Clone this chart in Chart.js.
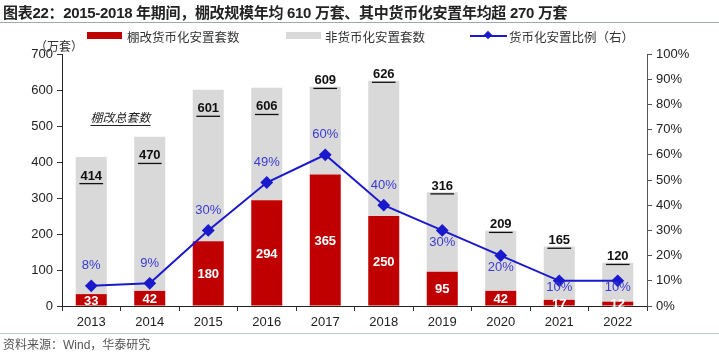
<!DOCTYPE html>
<html lang="zh">
<head>
  <meta charset="UTF-8">
  <title>棚改货币化安置</title>
  <script src="https://cdn.jsdelivr.net/npm/chart.js"></script>
  <style>
    body { margin: 0; width: 719px; height: 352px; position: relative; background: #fff; font-family: "Liberation Sans", Arial, "Noto Sans CJK SC", sans-serif; overflow: hidden; }
    #title { position: absolute; left: 3px; top: 1px; font-size: 15px; font-weight: bold; color: #222; letter-spacing: -0.3px; white-space: nowrap; }
    #topline { position: absolute; left: 0; top: 22px; width: 719px; height: 1px; background: #9aa9b8; }
    #botline { position: absolute; left: 0; top: 333px; width: 719px; height: 1px; background: #bcc6d0; }
    #source { position: absolute; left: 3px; top: 335px; font-size: 12px; color: #555; }
    #unit { position: absolute; left: 35px; top: 37px; font-size: 12px; color: #333; }
    .sw { position: absolute; top: 32px; width: 35px; height: 7px; }
    .lt { position: absolute; top: 27px; font-size: 12.5px; color: #333; white-space: nowrap; font-family: "Noto Sans CJK SC", sans-serif; }
    .ln { position: absolute; top: 35px; left: 470px; width: 37px; height: 2px; background: #1a1acc; }
    .ln:after { content: ""; position: absolute; left: 15px; top: -3px; width: 6px; height: 6px; background: #1a1acc; transform: rotate(45deg); }
    #wrap { position: absolute; left: 0; top: 0; width: 719px; height: 352px; }
  </style>
</head>
<body>
  <div id="wrap"><canvas id="c"></canvas></div>
  <div id="title">图表22：2015-2018 年期间，棚改规模年均 610 万套、其中货币化安置年均超 270 万套</div>
  <div id="topline"></div>
  <span class="sw" style="left:87px;background:#c00000"></span><span class="lt" style="left:127px">棚改货币化安置套数</span>
  <span class="sw" style="left:286px;background:#d9d9d9"></span><span class="lt" style="left:325px">非货币化安置套数</span>
  <span class="ln"></span><span class="lt" style="left:509px">货币化安置比例（右）</span>
  <div id="unit">（万套）</div>
  <div id="botline"></div>
  <div id="source">资料来源：Wind，华泰研究</div>

  <script>
    const years = ['2013', '2014', '2015', '2016', '2017', '2018', '2019', '2020', '2021', '2022'];
    const totals = [414, 470, 601, 606, 609, 626, 316, 209, 165, 120];
    const monetized = [33, 42, 180, 294, 365, 250, 95, 42, 17, 12];
    const ratio = [8, 9, 30, 49, 60, 40, 30, 20, 10, 10];
    const nonMonetized = totals.map((t, i) => t - monetized[i]);

    // label placement: total labels inside bar for early years, above for later
    const totalInside = [true, true, true, true, false, false, false, false, false, false];
    const ratioAbove = [true, true, true, true, true, true, false, false, false, false];

    const labelsPlugin = {
      id: 'labels',
      afterDatasetsDraw(chart) {
        const ctx = chart.ctx;
        const x = chart.scales.x, y = chart.scales.y, y2 = chart.scales.y2;
        ctx.save();
        ctx.textAlign = 'center';
        ctx.textBaseline = 'middle';
        years.forEach((yr, i) => {
          const cx = x.getPixelForValue(i);
          // totals, bold + underline
          const top = y.getPixelForValue(totals[i]);
          const ty = totalInside[i] ? top + 19 : top - 6;
          ctx.font = 'bold 13px "Liberation Sans", Arial';
          ctx.fillStyle = '#111';
          ctx.fillText(String(totals[i]), cx, ty);
          const w = ctx.measureText(String(totals[i])).width;
          ctx.fillRect(cx - w / 2 - 1, ty + 7, w + 2, 1.3);
          // monetized values, white centered
          const mid = (y.getPixelForValue(0) + y.getPixelForValue(monetized[i])) / 2;
          ctx.fillStyle = '#fff';
          ctx.fillText(String(monetized[i]), cx, mid + 1);
          // ratio labels
          const py = y2.getPixelForValue(ratio[i]);
          ctx.font = '13px "Liberation Sans", Arial';
          ctx.fillStyle = '#3a3ad0';
          ctx.fillText(ratio[i] + '%', cx, ratioAbove[i] ? py - 20 : py + (i >= 8 ? 7 : 12));
        });
        // annotation
        const ax = (x.getPixelForValue(0) + x.getPixelForValue(1)) / 2;
        const ay = y.getPixelForValue(525);
        ctx.font = 'italic 12px "Noto Sans CJK SC", sans-serif';
        ctx.fillStyle = '#222';
        ctx.fillText('棚改总套数', ax, ay);
        const aw = ctx.measureText('棚改总套数').width;
        ctx.fillRect(ax - aw / 2, ay + 8, aw, 1);
        ctx.restore();
      }
    };

    new Chart(document.getElementById('c'), {
      data: {
        labels: years,
        datasets: [
          {
            type: 'line', label: '货币化安置比例（右）', data: ratio, yAxisID: 'y2',
            borderColor: '#1a1acc', backgroundColor: '#1a1acc', borderWidth: 2,
            pointStyle: 'rectRot', pointRadius: 5, pointHoverRadius: 5, order: 0
          },
          {
            type: 'bar', label: '棚改货币化安置套数', data: monetized, yAxisID: 'y',
            backgroundColor: '#c00000', barPercentage: 0.53, categoryPercentage: 1, order: 2
          },
          {
            type: 'bar', label: '非货币化安置套数', data: nonMonetized, yAxisID: 'y',
            backgroundColor: '#d9d9d9', barPercentage: 0.53, categoryPercentage: 1, order: 2
          }
        ]
      },
      options: {
        responsive: true,
        maintainAspectRatio: false,
        animation: false,
        layout: { padding: { top: 54, left: 0, right: 0, bottom: 0 } },
        plugins: { legend: { display: false }, tooltip: { enabled: false } },
        scales: {
          x: {
            stacked: true,
            grid: { offset: true, drawOnChartArea: false, tickLength: 5, color: '#333' },
            border: { color: '#222', width: 1 },
            ticks: { color: '#222', font: { size: 13, family: '"Liberation Sans", Arial' }, padding: 4 },
            afterFit(s) { s.height = 46; }
          },
          y: {
            stacked: true, position: 'left', min: 0, max: 700,
            grid: { drawOnChartArea: false, tickLength: 5, color: '#333' },
            border: { color: '#222', width: 1 },
            ticks: { stepSize: 100, color: '#222', font: { size: 13, family: '"Liberation Sans", Arial' }, padding: 4 },
            afterFit(s) { s.width = 62; }
          },
          y2: {
            position: 'right', min: 0, max: 100,
            grid: { drawOnChartArea: false, tickLength: 5, color: '#555' },
            border: { color: '#555', width: 1 },
            ticks: { stepSize: 10, callback: v => v + '%', color: '#222', font: { size: 13, family: '"Liberation Sans", Arial' }, padding: 4 },
            afterFit(s) { s.width = 72; }
          }
        }
      },
      plugins: [labelsPlugin]
    });
  </script>
</body>
</html>
